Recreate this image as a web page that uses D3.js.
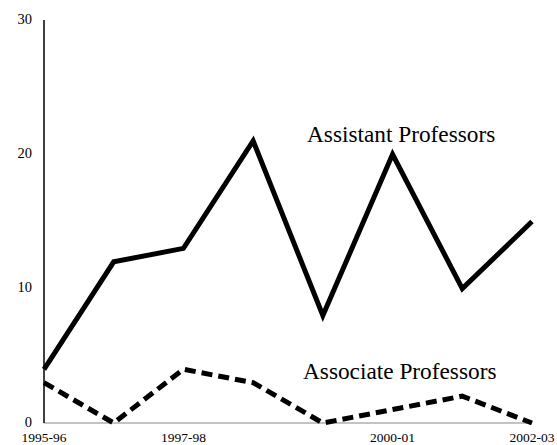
<!DOCTYPE html>
<html><head><meta charset="utf-8">
<script src="https://d3js.org/d3.v7.min.js"></script>
<style>body{margin:0;background:#fff}svg{display:block}</style>
</head><body>
<script>
const years = ["1995-96","1996-97","1997-98","1998-99","1999-00","2000-01","2001-02","2002-03"];
const assistant = [4,12,13,21,8,20,10,15];
const associate = [3,0,4,3,0,1,2,0];
const yTicks = [0,10,20,30];
const shownYears = ["1995-96","1997-98","2000-01","2002-03"];
const seriesLabels = ["Assistant Professors","Associate Professors"];

const W=557,H=445;
const svg=d3.select("body").append("svg").attr("width",W).attr("height",H);
const font="'Liberation Serif', 'Times New Roman', serif";
const x=d3.scalePoint().domain(years).range([44,532]);
const y=d3.scaleLinear().domain([0,30]).range([423,20]);

// axes
svg.append("line").attr("x1",44).attr("x2",532).attr("y1",y(0)).attr("y2",y(0)).attr("stroke","#888").attr("stroke-width",1.2);
svg.append("line").attr("x1",44).attr("x2",44).attr("y1",y(0)).attr("y2",y(30)).attr("stroke","#000").attr("stroke-width",1.5);

svg.selectAll(".yt").data(yTicks).enter().append("text")
  .attr("x",32).attr("y",d=>y(d)+3.5).attr("text-anchor","end")
  .attr("font-family",font).attr("font-size",14.5).text(d=>d);
svg.selectAll(".xt").data(shownYears).enter().append("text")
  .attr("x",d=>x(d)).attr("y",441.5).attr("text-anchor","middle")
  .attr("font-family",font).attr("font-size",13.5).text(d=>d);

const line=d3.line().x((d,i)=>x(years[i])).y(d=>y(d));
svg.append("path").attr("d",line(assistant)).attr("fill","none").attr("stroke","#000").attr("stroke-width",5).attr("stroke-linejoin","miter");
svg.append("path").attr("d",line(associate)).attr("fill","none").attr("stroke","#000").attr("stroke-width",5).attr("stroke-dasharray","11,6");

svg.append("text").attr("x",307).attr("y",142).attr("font-family",font).attr("font-size",23.3).text(seriesLabels[0]);
svg.append("text").attr("x",303).attr("y",379).attr("font-family",font).attr("font-size",23.3).text(seriesLabels[1]);
</script>
</body></html>
